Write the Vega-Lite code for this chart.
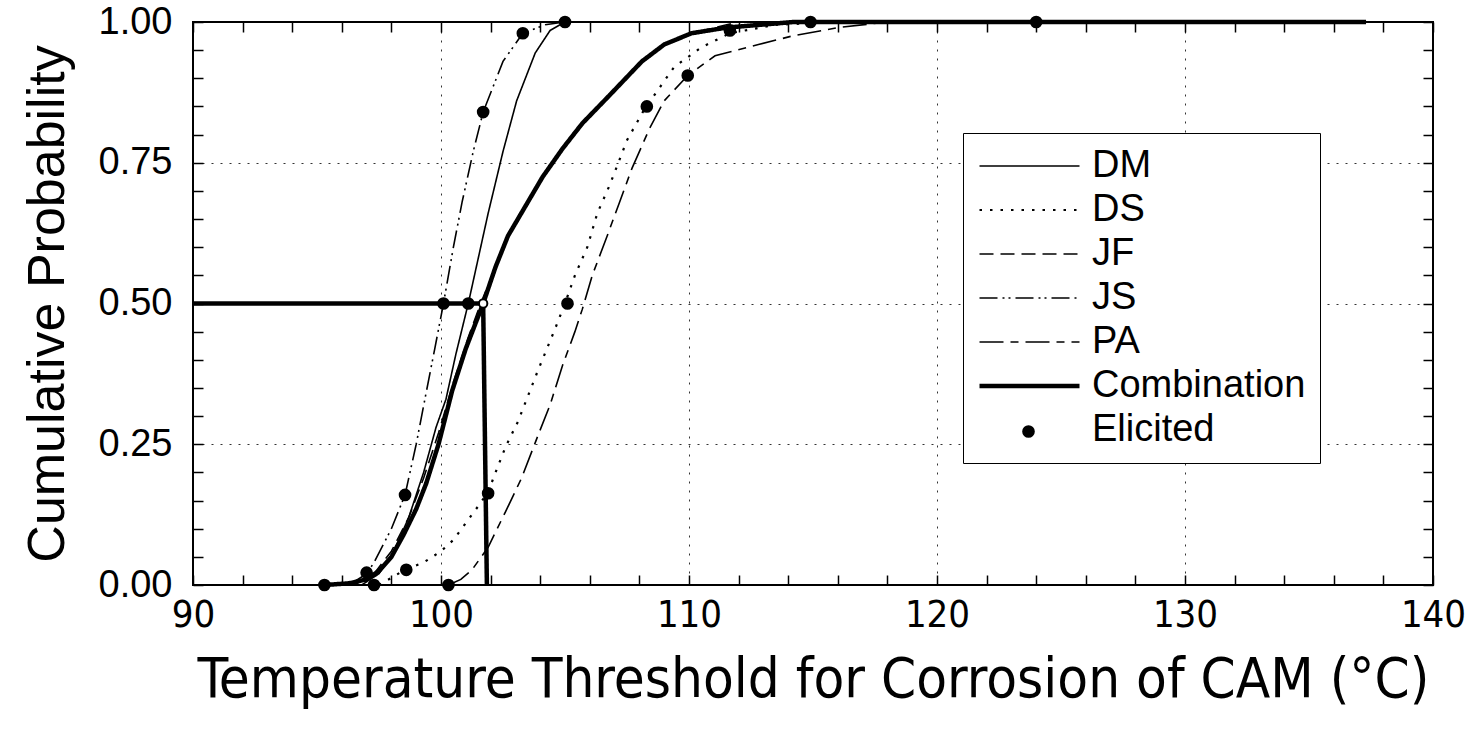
{
  "$schema": "https://vega.github.io/schema/vega-lite/v6.json",
  "width": 1240,
  "height": 563,
  "autosize": "none",
  "padding": {"left": 193, "top": 22, "right": 35, "bottom": 145},
  "background": "white",
  "config": {
    "view": {"stroke": "black", "strokeWidth": 2},
    "font": "Liberation Sans",
    "legend": {"labelColor": "black"}
  },
  "datasets": {
    "curves": [
      {"series": "DM", "x": 96.8, "y": 0}, {"series": "DM", "x": 97.5, "y": 0.02}, {"series": "DM", "x": 98.1, "y": 0.06}, {"series": "DM", "x": 98.7, "y": 0.12}, {"series": "DM", "x": 99.3, "y": 0.2}, {"series": "DM", "x": 99.8, "y": 0.28}, {"series": "DM", "x": 100.2, "y": 0.33}, {"series": "DM", "x": 100.6, "y": 0.41}, {"series": "DM", "x": 101.1, "y": 0.5}, {"series": "DM", "x": 101.5, "y": 0.58}, {"series": "DM", "x": 101.9, "y": 0.66}, {"series": "DM", "x": 102.5, "y": 0.77}, {"series": "DM", "x": 103.05, "y": 0.86}, {"series": "DM", "x": 103.8, "y": 0.945}, {"series": "DM", "x": 104.4, "y": 0.985}, {"series": "DM", "x": 105.0, "y": 1.0},
      {"series": "DS", "x": 97.5, "y": 0}, {"series": "DS", "x": 98.55, "y": 0.027}, {"series": "DS", "x": 99.3, "y": 0.04}, {"series": "DS", "x": 100.0, "y": 0.06}, {"series": "DS", "x": 100.5, "y": 0.08}, {"series": "DS", "x": 101.0, "y": 0.11}, {"series": "DS", "x": 101.5, "y": 0.14}, {"series": "DS", "x": 101.9, "y": 0.165}, {"series": "DS", "x": 102.2, "y": 0.2}, {"series": "DS", "x": 102.6, "y": 0.245}, {"series": "DS", "x": 103.1, "y": 0.29}, {"series": "DS", "x": 103.5, "y": 0.335}, {"series": "DS", "x": 103.9, "y": 0.38}, {"series": "DS", "x": 104.6, "y": 0.455}, {"series": "DS", "x": 105.0, "y": 0.5}, {"series": "DS", "x": 105.4, "y": 0.55}, {"series": "DS", "x": 105.9, "y": 0.6}, {"series": "DS", "x": 106.3, "y": 0.66}, {"series": "DS", "x": 106.8, "y": 0.71}, {"series": "DS", "x": 107.5, "y": 0.79}, {"series": "DS", "x": 108.2, "y": 0.845}, {"series": "DS", "x": 109.4, "y": 0.92}, {"series": "DS", "x": 110.5, "y": 0.955}, {"series": "DS", "x": 111.65, "y": 0.98}, {"series": "DS", "x": 113.5, "y": 0.995}, {"series": "DS", "x": 116.0, "y": 1.0},
      {"series": "JF", "x": 96.5, "y": 0}, {"series": "JF", "x": 97.3, "y": 0.02}, {"series": "JF", "x": 98.0, "y": 0.06}, {"series": "JF", "x": 98.7, "y": 0.12}, {"series": "JF", "x": 99.3, "y": 0.19}, {"series": "JF", "x": 99.9, "y": 0.27}, {"series": "JF", "x": 100.5, "y": 0.36}, {"series": "JF", "x": 101.1, "y": 0.44}, {"series": "JF", "x": 101.6, "y": 0.5}, {"series": "JF", "x": 102.2, "y": 0.565}, {"series": "JF", "x": 102.7, "y": 0.62}, {"series": "JF", "x": 103.5, "y": 0.68}, {"series": "JF", "x": 104.1, "y": 0.725}, {"series": "JF", "x": 104.9, "y": 0.775}, {"series": "JF", "x": 105.7, "y": 0.82}, {"series": "JF", "x": 106.8, "y": 0.87}, {"series": "JF", "x": 108.1, "y": 0.93}, {"series": "JF", "x": 109.0, "y": 0.96}, {"series": "JF", "x": 110.1, "y": 0.98}, {"series": "JF", "x": 112.0, "y": 1.0},
      {"series": "JS", "x": 96.3, "y": 0}, {"series": "JS", "x": 97.0, "y": 0.02}, {"series": "JS", "x": 97.3, "y": 0.04}, {"series": "JS", "x": 98.0, "y": 0.1}, {"series": "JS", "x": 98.55, "y": 0.16}, {"series": "JS", "x": 99.0, "y": 0.25}, {"series": "JS", "x": 99.35, "y": 0.33}, {"series": "JS", "x": 99.75, "y": 0.42}, {"series": "JS", "x": 100.1, "y": 0.5}, {"series": "JS", "x": 100.5, "y": 0.6}, {"series": "JS", "x": 100.85, "y": 0.68}, {"series": "JS", "x": 101.3, "y": 0.77}, {"series": "JS", "x": 101.7, "y": 0.84}, {"series": "JS", "x": 102.5, "y": 0.93}, {"series": "JS", "x": 103.3, "y": 0.98}, {"series": "JS", "x": 104.2, "y": 0.995}, {"series": "JS", "x": 105.0, "y": 1.0},
      {"series": "PA", "x": 100.3, "y": 0}, {"series": "PA", "x": 100.8, "y": 0.01}, {"series": "PA", "x": 101.25, "y": 0.027}, {"series": "PA", "x": 101.9, "y": 0.067}, {"series": "PA", "x": 102.6, "y": 0.13}, {"series": "PA", "x": 103.25, "y": 0.19}, {"series": "PA", "x": 103.95, "y": 0.27}, {"series": "PA", "x": 104.4, "y": 0.32}, {"series": "PA", "x": 104.9, "y": 0.39}, {"series": "PA", "x": 105.4, "y": 0.45}, {"series": "PA", "x": 105.7, "y": 0.49}, {"series": "PA", "x": 106.1, "y": 0.55}, {"series": "PA", "x": 106.7, "y": 0.62}, {"series": "PA", "x": 107.2, "y": 0.68}, {"series": "PA", "x": 107.7, "y": 0.74}, {"series": "PA", "x": 108.4, "y": 0.81}, {"series": "PA", "x": 109.0, "y": 0.86}, {"series": "PA", "x": 109.95, "y": 0.905}, {"series": "PA", "x": 111.05, "y": 0.94}, {"series": "PA", "x": 112.8, "y": 0.96}, {"series": "PA", "x": 114.15, "y": 0.975}, {"series": "PA", "x": 116.0, "y": 0.99}, {"series": "PA", "x": 118.0, "y": 1.0},
      {"series": "Combination", "x": 95.3, "y": 0}, {"series": "Combination", "x": 96.3, "y": 0.003}, {"series": "Combination", "x": 97.0, "y": 0.01}, {"series": "Combination", "x": 97.5, "y": 0.025}, {"series": "Combination", "x": 98.0, "y": 0.05}, {"series": "Combination", "x": 98.5, "y": 0.09}, {"series": "Combination", "x": 99.0, "y": 0.135}, {"series": "Combination", "x": 99.4, "y": 0.18}, {"series": "Combination", "x": 99.9, "y": 0.25}, {"series": "Combination", "x": 100.45, "y": 0.345}, {"series": "Combination", "x": 101.0, "y": 0.42}, {"series": "Combination", "x": 101.7, "y": 0.5}, {"series": "Combination", "x": 102.2, "y": 0.565}, {"series": "Combination", "x": 102.7, "y": 0.62}, {"series": "Combination", "x": 103.5, "y": 0.68}, {"series": "Combination", "x": 104.1, "y": 0.725}, {"series": "Combination", "x": 104.9, "y": 0.775}, {"series": "Combination", "x": 105.7, "y": 0.82}, {"series": "Combination", "x": 106.8, "y": 0.87}, {"series": "Combination", "x": 108.1, "y": 0.93}, {"series": "Combination", "x": 109.0, "y": 0.96}, {"series": "Combination", "x": 110.1, "y": 0.98}, {"series": "Combination", "x": 111.5, "y": 0.99}, {"series": "Combination", "x": 114.2, "y": 1.0}, {"series": "Combination", "x": 137.3, "y": 1.0}
    ],
    "median": [
      {"seg": "h", "x": 90, "y": 0.5}, {"seg": "h", "x": 101.7, "y": 0.5},
      {"seg": "v", "x": 101.7, "y": 0.5}, {"seg": "v", "x": 101.85, "y": 0}
    ],
    "elicited": [
      {"kind": "Elicited", "x": 95.3, "y": 0}, {"kind": "Elicited", "x": 97.0, "y": 0.022}, {"kind": "Elicited", "x": 97.3, "y": 0}, {"kind": "Elicited", "x": 98.55, "y": 0.16}, {"kind": "Elicited", "x": 98.6, "y": 0.027}, {"kind": "Elicited", "x": 100.1, "y": 0.5}, {"kind": "Elicited", "x": 100.3, "y": 0}, {"kind": "Elicited", "x": 101.1, "y": 0.5}, {"kind": "Elicited", "x": 101.7, "y": 0.84}, {"kind": "Elicited", "x": 101.9, "y": 0.163}, {"kind": "Elicited", "x": 103.3, "y": 0.98}, {"kind": "Elicited", "x": 105.0, "y": 1.0}, {"kind": "Elicited", "x": 105.1, "y": 0.5}, {"kind": "Elicited", "x": 108.3, "y": 0.85}, {"kind": "Elicited", "x": 109.95, "y": 0.905}, {"kind": "Elicited", "x": 111.65, "y": 0.985}, {"kind": "Elicited", "x": 114.9, "y": 1.0}, {"kind": "Elicited", "x": 124.0, "y": 1.0}
    ],
    "medpt": [{"x": 101.7, "y": 0.5}]
  },
  "layer": [
    {
      "data": {"name": "curves"},
      "mark": {"type": "line", "color": "black", "strokeCap": "butt"},
      "encoding": {
        "x": {
          "field": "x", "type": "quantitative",
          "scale": {"domain": [90, 140], "nice": false, "zero": false},
          "axis": {
            "orient": "bottom",
            "values": [90, 92, 94, 96, 98, 100, 102, 104, 106, 108, 110, 112, 114, 116, 118, 120, 122, 124, 126, 128, 130, 132, 134, 136, 138, 140],
            "labelExpr": "datum.value % 10 === 0 ? datum.label : ''",
            "domain": false,
            "tickSize": -10, "tickColor": "black", "tickWidth": 1.5,
            "grid": true,
            "gridOpacity": {"condition": {"test": "datum.value % 10 === 0 && datum.value > 90 && datum.value < 140", "value": 1}, "value": 0},
            "gridDash": [2, 7], "gridColor": "#333333", "gridWidth": 1,
            "labelFont": "Liberation Sans Narrow, DejaVu Sans Condensed, Liberation Sans",
            "labelFontSize": 38, "labelColor": "black", "labelPadding": 21, "labelFlush": false, "labelOverlap": false,
            "title": "Temperature Threshold for Corrosion of CAM (°C)",
            "titleFont": "Liberation Sans Narrow, DejaVu Sans Condensed, Liberation Sans",
            "titleFontSize": 56, "titleFontWeight": "normal", "titleColor": "black", "titlePadding": 18
          }
        },
        "y": {
          "field": "y", "type": "quantitative",
          "scale": {"domain": [0, 1], "nice": false, "zero": false},
          "axis": {
            "orient": "left",
            "values": [0, 0.05, 0.1, 0.15, 0.2, 0.25, 0.3, 0.35, 0.4, 0.45, 0.5, 0.55, 0.6, 0.65, 0.7, 0.75, 0.8, 0.85, 0.9, 0.95, 1],
            "labelExpr": "abs(datum.value * 4 - round(datum.value * 4)) < 0.001 ? format(datum.value, '.2f') : ''",
            "domain": false,
            "tickSize": -10, "tickColor": "black", "tickWidth": 1.5,
            "grid": true,
            "gridOpacity": {"condition": {"test": "abs(datum.value * 4 - round(datum.value * 4)) < 0.001 && datum.value > 0.01 && datum.value < 0.99", "value": 1}, "value": 0},
            "gridDash": [2, 7], "gridColor": "#333333", "gridWidth": 1,
            "labelFont": "Liberation Sans", "labelFontSize": 38, "labelColor": "black", "labelPadding": 31, "labelFlush": false, "labelOverlap": false,
            "title": "Cumulative Probability",
            "titleFont": "Liberation Sans", "titleFontSize": 52, "titleFontWeight": "normal", "titleColor": "black", "titlePadding": 24
          }
        },
        "detail": {"field": "series"},
        "strokeDash": {
          "field": "series", "type": "nominal",
          "scale": {"domain": ["DM", "DS", "JF", "JS", "PA", "Combination", "Elicited"], "range": [[1, 0], [2.5, 8], [14, 7], [18, 5, 2, 4, 2, 5], [24, 7, 8, 7], [1, 0], [1, 0]]},
          "legend": {
            "title": null, "orient": "none", "legendX": 770, "legendY": 111, "padding": 14,
            "strokeColor": "black", "fillColor": "white",
            "labelFontSize": 38, "labelFont": "Liberation Sans", "labelOffset": 10, "rowPadding": 6, "labelLimit": 400,
            "symbolSize": 10000, "symbolType": "stroke", "symbolStrokeColor": "black", "clipHeight": 38
          }
        },
        "strokeWidth": {
          "field": "series", "type": "nominal",
          "scale": {"type": "ordinal", "domain": ["DM", "DS", "JF", "JS", "PA", "Combination", "Elicited"], "range": [1.6, 2.2, 1.6, 1.6, 1.6, 4.5, 0]},
          "legend": {
            "title": null, "orient": "none", "legendX": 770, "legendY": 111, "padding": 14,
            "strokeColor": "black", "fillColor": "white",
            "labelFontSize": 38, "labelFont": "Liberation Sans", "labelOffset": 10, "rowPadding": 6, "labelLimit": 400,
            "symbolSize": 10000, "symbolType": "stroke", "symbolStrokeColor": "black", "clipHeight": 38
          }
        }
      }
    },
    {
      "data": {"name": "median"},
      "mark": {"type": "line", "color": "black", "strokeWidth": 4.5, "strokeCap": "butt"},
      "encoding": {
        "x": {"field": "x", "type": "quantitative", "scale": {"domain": [90, 140], "nice": false, "zero": false}, "axis": null},
        "y": {"field": "y", "type": "quantitative", "scale": {"domain": [0, 1], "nice": false, "zero": false}, "axis": null},
        "detail": {"field": "seg"}
      }
    },
    {
      "data": {"name": "elicited"},
      "mark": {"type": "point", "filled": true, "color": "black", "size": 160, "opacity": 1},
      "encoding": {
        "x": {
          "field": "x", "type": "quantitative",
          "scale": {"domain": [90, 140], "nice": false, "zero": false},
          "axis": {"orient": "top", "values": [90, 92, 94, 96, 98, 100, 102, 104, 106, 108, 110, 112, 114, 116, 118, 120, 122, 124, 126, 128, 130, 132, 134, 136, 138, 140], "labels": false, "domain": false, "grid": false, "tickSize": -10, "tickColor": "black", "tickWidth": 1.5, "title": null}
        },
        "y": {
          "field": "y", "type": "quantitative",
          "scale": {"domain": [0, 1], "nice": false, "zero": false},
          "axis": {"orient": "right", "values": [0, 0.05, 0.1, 0.15, 0.2, 0.25, 0.3, 0.35, 0.4, 0.45, 0.5, 0.55, 0.6, 0.65, 0.7, 0.75, 0.8, 0.85, 0.9, 0.95, 1], "labels": false, "domain": false, "grid": false, "tickSize": -10, "tickColor": "black", "tickWidth": 1.5, "title": null}
        },
        "shape": {
          "field": "kind", "type": "nominal",
          "scale": {"domain": ["Elicited"], "range": ["circle"]},
          "legend": {
            "title": null, "orient": "none", "legendX": 828, "legendY": 402, "padding": 0,
            "symbolSize": 160, "symbolFillColor": "black", "labelOpacity": 0, "labelFontSize": 10
          }
        }
      }
    },
    {
      "data": {"name": "medpt"},
      "mark": {"type": "point", "filled": true, "fill": "white", "stroke": "black", "strokeWidth": 2, "size": 70, "opacity": 1},
      "encoding": {
        "x": {"field": "x", "type": "quantitative", "scale": {"domain": [90, 140], "nice": false, "zero": false}, "axis": null},
        "y": {"field": "y", "type": "quantitative", "scale": {"domain": [0, 1], "nice": false, "zero": false}, "axis": null}
      }
    }
  ],
  "resolve": {"axis": {"x": "independent", "y": "independent"}}
}
